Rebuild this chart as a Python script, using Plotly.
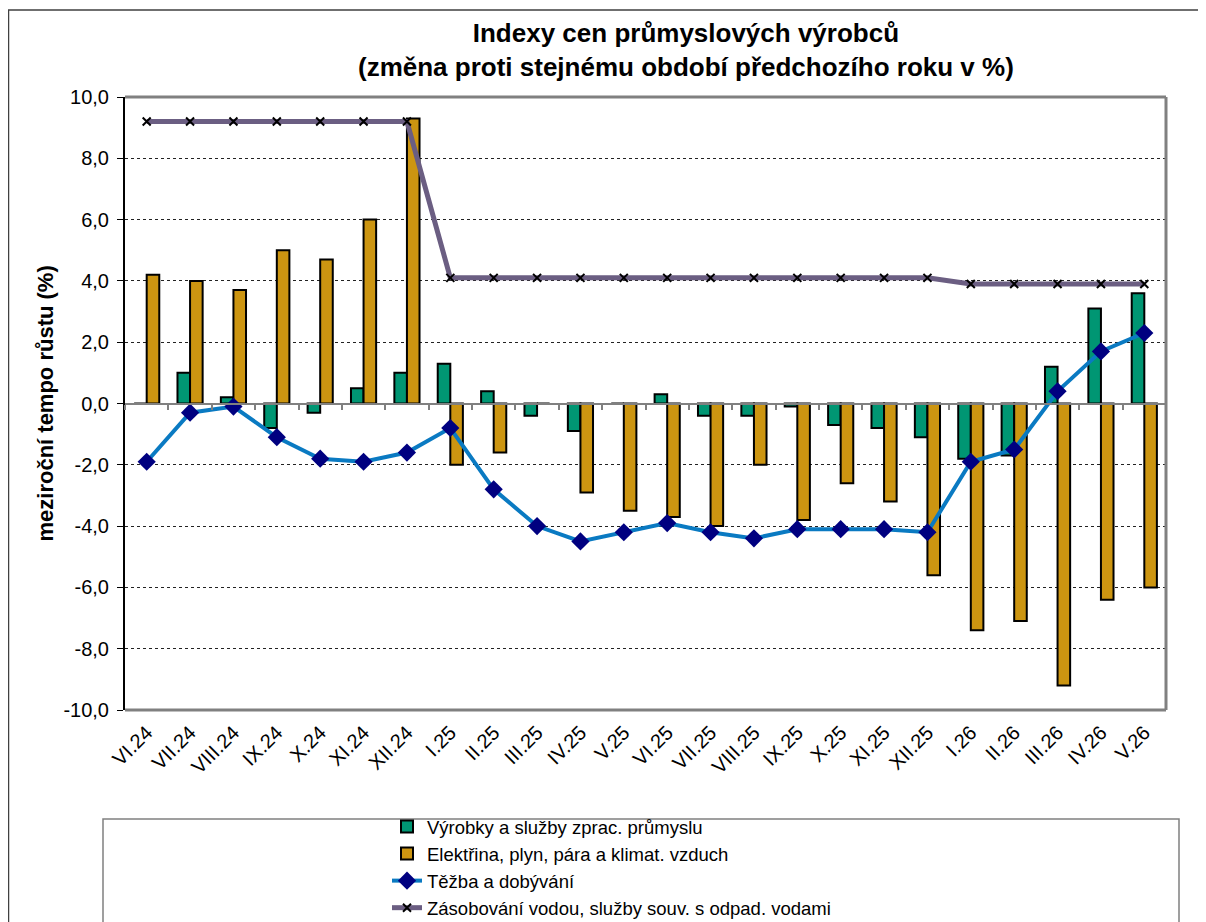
import plotly.graph_objects as go

months = ["VI.24", "VII.24", "VIII.24", "IX.24", "X.24", "XI.24", "XII.24",
          "I.25", "II.25", "III.25", "IV.25", "V.25", "VI.25", "VII.25", "VIII.25",
          "IX.25", "X.25", "XI.25", "XII.25", "I.26", "II.26", "III.26", "IV.26", "V.26"]

vyrobky = [0.0, 1.0, 0.2, -0.8, -0.3, 0.5, 1.0,
           1.3, 0.4, -0.4, -0.9, 0.0, 0.3, -0.4, -0.4,
           -0.1, -0.7, -0.8, -1.1, -1.8, -1.7, 1.2, 3.1, 3.6]

elektrina = [4.2, 4.0, 3.7, 5.0, 4.7, 6.0, 9.3,
             -2.0, -1.6, 0.0, -2.9, -3.5, -3.7, -4.0, -2.0,
             -3.8, -2.6, -3.2, -5.6, -7.4, -7.1, -9.2, -6.4, -6.0]

tezba = [-1.9, -0.3, -0.1, -1.1, -1.8, -1.9, -1.6,
         -0.8, -2.8, -4.0, -4.5, -4.2, -3.9, -4.2, -4.4,
         -4.1, -4.1, -4.1, -4.2, -1.9, -1.5, 0.4, 1.7, 2.3]

voda = [9.2, 9.2, 9.2, 9.2, 9.2, 9.2, 9.2,
        4.1, 4.1, 4.1, 4.1, 4.1, 4.1, 4.1, 4.1,
        4.1, 4.1, 4.1, 4.1, 3.9, 3.9, 3.9, 3.9, 3.9]

names = ["Výrobky a služby zprac. průmyslu",
         "Elektřina, plyn, pára a klimat. vzduch",
         "Těžba a dobývání",
         "Zásobování vodou, služby souv. s odpad. vodami"]

y_tick_vals = [10, 8, 6, 4, 2, 0, -2, -4, -6, -8, -10]
y_tick_text = ["10,0", "8,0", "6,0", "4,0", "2,0", "0,0", "-2,0", "-4,0", "-6,0", "-8,0", "-10,0"]

title_text = "Indexy cen průmyslových výrobců<br>(změna proti stejnému období předchozího roku v %)"
y_title = "meziroční tempo růstu (%)"

FONT = "Liberation Sans, Arial, sans-serif"
OFF = 8  # page offset of the figure (body margin)
W, H = 1206 - OFF, 922 - OFF
# plot area in page pixels
L, R, T, B = 125, 1166, 97, 710


def px_x(p):
    return (p - L) / (R - L)


def px_y(p):
    return (B - p) / (B - T)


fig = go.Figure()
fig.add_trace(go.Bar(x=months, y=vyrobky, name=names[0],
                     marker=dict(color="#009673", line=dict(color="black", width=2))))
fig.add_trace(go.Bar(x=months, y=elektrina, name=names[1],
                     marker=dict(color="#CC9511", line=dict(color="black", width=2))))
fig.add_trace(go.Scatter(x=months, y=tezba, name=names[2], mode="lines+markers",
                         line=dict(color="#0A7AC2", width=4),
                         marker=dict(symbol="diamond", size=14, color="#000080")))
fig.add_trace(go.Scatter(x=months, y=voda, name=names[3], mode="lines+markers",
                         line=dict(color="#6B5E82", width=5),
                         marker=dict(symbol="x-thin", size=8, color="black",
                                     line=dict(color="black", width=2))))
# helper trace for the zero-line axis with boundary ticks
fig.add_trace(go.Scatter(x=months, y=[None] * len(months), xaxis="x2", yaxis="y",
                         showlegend=False, hoverinfo="skip", mode="lines"))

fig.update_layout(
    template="none",
    width=W, height=H,
    margin=dict(l=L - OFF, r=W - (R - OFF), t=T - OFF, b=H - (B - OFF), autoexpand=False),
    paper_bgcolor="white", plot_bgcolor="white",
    font=dict(family=FONT, color="black"),
    barmode="group", bargap=0.42, bargroupgap=0.0,
    showlegend=True,
    legend=dict(xref="container", yref="container",
                x=(387 - OFF) / W, y=1 - (808 - OFF) / H, xanchor="left", yanchor="top",
                font=dict(size=18.5, family=FONT), bgcolor="rgba(0,0,0,0)",
                borderwidth=0, traceorder="normal", tracegroupgap=0, itemwidth=30),
    xaxis=dict(type="category", range=[-0.5, 23.5], tickangle=-45, automargin=False,
               tickfont=dict(size=20, family=FONT), ticks="", showline=False,
               showgrid=False, zeroline=False, ticklabelstandoff=6),
    xaxis2=dict(type="category", overlaying="x", anchor="free", position=0.5,
                range=[-0.5, 23.5], tickson="boundaries", ticks="outside",
                ticklen=5, tickcolor="#808080", tickwidth=1.5, showticklabels=False,
                showline=True, linecolor="#808080", linewidth=2, showgrid=False,
                zeroline=False, side="bottom", automargin=False),
    yaxis=dict(range=[-10, 10], tickvals=y_tick_vals, ticktext=y_tick_text,
               tickfont=dict(size=20, family=FONT), ticks="outside", ticklen=6,
               tickcolor="black", showline=True, linecolor="black", linewidth=2,
               showgrid=True, gridcolor="#222", griddash="dot", gridwidth=1,
               zeroline=False, ticklabelstandoff=4, automargin=False),
)

shapes = [
    dict(type="line", xref="paper", yref="paper", x0=0, x1=1, y0=1, y1=1,
         line=dict(color="#808080", width=3)),
    dict(type="line", xref="paper", yref="paper", x0=1, x1=1, y0=0, y1=1,
         line=dict(color="#808080", width=3)),
    dict(type="line", xref="paper", yref="paper", x0=0, x1=1, y0=0, y1=0,
         line=dict(color="#808080", width=3)),
    dict(type="rect", xref="paper", yref="paper", x0=px_x(8.5), x1=px_x(1200),
         y0=px_y(990), y1=px_y(10), line=dict(color="#404040", width=1.5), layer="below"),
    dict(type="rect", xref="paper", yref="paper", x0=px_x(103), x1=px_x(1179),
         y0=px_y(990), y1=px_y(819), line=dict(color="#808080", width=1.5), layer="below"),
]
fig.update_layout(shapes=shapes)

fig.add_annotation(text="<b>" + title_text + "</b>", xref="paper", yref="paper",
                   x=px_x(686), y=px_y(50), xanchor="center", yanchor="middle",
                   showarrow=False, font=dict(size=26, family=FONT, color="black"))
fig.add_annotation(text="<b>" + y_title + "</b>", xref="paper", yref="paper",
                   x=px_x(45), y=0.5, xanchor="center", yanchor="middle", textangle=-90,
                   showarrow=False, font=dict(size=22, family=FONT, color="black"))

fig.write_html("out.html")
